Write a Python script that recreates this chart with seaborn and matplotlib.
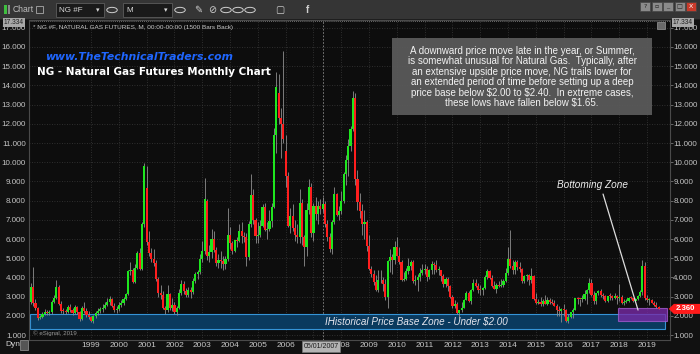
import numpy as np
import pandas as pd
import matplotlib
matplotlib.use('Agg')
import matplotlib.pyplot as plt
from matplotlib.patches import Rectangle, Polygon, Circle
import seaborn as sns

sns.set_style('dark')
plt.rcParams['font.family'] = ['Liberation Sans', 'DejaVu Sans']

# ── monthly NG #F bars, Nov 1996 .. Jun 2019 (one row per calendar year) ──
FIRST_MONTH = '1996-11'

opens = [
    2.73, 3.52,
    2.65, 2.40, 1.88, 1.95, 2.12, 2.20, 2.15, 2.18, 2.72, 2.95, 3.52, 2.64,
    2.26, 2.25, 2.22, 2.45, 2.28, 2.15, 2.45, 2.20, 1.85, 2.40, 2.25, 2.05,
    1.95, 1.75, 1.98, 2.15, 2.25, 2.35, 2.42, 2.55, 2.72, 2.85, 2.50, 2.30,
    2.33, 2.55, 2.65, 2.85, 3.15, 4.35, 4.40, 3.75, 4.50, 5.25, 4.45, 6.80,
    8.66, 5.86, 5.26, 4.95, 4.75, 3.90, 3.20, 3.10, 2.40, 2.30, 3.15, 2.40,
    2.57, 2.20, 2.40, 3.20, 3.65, 3.30, 3.10, 3.35, 3.25, 3.80, 4.20, 4.30,
    4.95, 5.40, 8.00, 5.10, 5.30, 6.00, 5.45, 4.75, 4.90, 4.85, 4.70, 4.95,
    6.19, 5.80, 5.40, 5.93, 5.90, 6.42, 6.16, 6.08, 5.08, 6.77, 8.30, 7.00,
    6.15, 6.21, 6.70, 7.65, 6.47, 6.53, 6.94, 7.69, 11.40, 13.60, 12.30, 12.00,
    10.60, 9.30, 6.70, 7.20, 6.55, 6.20, 6.10, 7.90, 6.10, 5.60, 7.50, 8.70,
    6.30, 7.70, 7.31, 7.73, 7.57, 7.83, 6.77, 6.11, 5.47, 6.87, 8.33, 7.26,
    7.48, 7.99, 9.37, 10.10, 10.85, 11.71, 13.35, 9.12, 7.92, 7.44, 6.78, 6.86,
    5.62, 4.42, 4.20, 3.78, 3.37, 3.84, 3.84, 3.66, 2.98, 4.84, 5.04, 4.93,
    5.57, 5.13, 4.80, 3.87, 3.92, 4.32, 4.62, 4.78, 3.81, 3.87, 4.03, 4.23,
    4.41, 4.42, 4.03, 4.39, 4.69, 4.67, 4.37, 4.39, 4.05, 3.67, 3.92, 3.57,
    2.99, 2.50, 2.62, 2.13, 2.29, 2.42, 2.82, 3.20, 2.77, 3.32, 3.70, 3.56,
    3.35, 3.34, 3.47, 4.02, 4.33, 3.98, 3.57, 3.42, 3.58, 3.56, 3.60, 3.83,
    4.23, 4.94, 4.61, 4.37, 4.80, 4.54, 4.46, 3.79, 4.06, 4.12, 3.84, 4.09,
    2.89, 2.69, 2.73, 2.64, 2.76, 2.64, 2.83, 2.72, 2.69, 2.52, 2.32, 2.24,
    2.34, 2.30, 1.71, 1.96, 2.18, 2.31, 2.92, 2.88, 2.86, 2.90, 3.12, 3.35,
    3.72, 3.09, 2.77, 3.19, 3.28, 3.07, 3.04, 2.77, 3.04, 3.01, 2.95, 3.02,
    2.95, 3.00, 2.67, 2.73, 2.76, 2.95, 2.92, 2.78, 2.90, 3.01, 3.26, 4.61,
    2.94, 2.81, 2.81, 2.66, 2.57, 2.45,
]
highs = [
    3.70, 4.56,
    2.90, 2.45, 2.05, 2.20, 2.35, 2.30, 2.30, 2.80, 3.10, 3.86, 3.60, 2.75,
    2.40, 2.35, 2.55, 2.60, 2.40, 2.55, 2.50, 2.25, 2.50, 2.70, 2.40, 2.25,
    2.00, 2.05, 2.25, 2.40, 2.45, 2.60, 2.70, 2.95, 3.05, 2.95, 2.65, 2.50,
    2.70, 2.80, 3.00, 3.20, 4.40, 4.80, 4.50, 4.70, 5.40, 5.55, 6.90, 9.98,
    9.80, 6.40, 5.55, 5.50, 4.90, 4.00, 3.60, 3.30, 2.50, 3.60, 3.20, 2.95,
    2.70, 2.50, 3.40, 3.85, 3.80, 3.45, 3.50, 3.50, 3.95, 4.30, 4.40, 5.20,
    5.90, 9.20, 8.10, 5.70, 6.50, 6.40, 5.60, 5.20, 5.40, 5.10, 5.10, 7.60,
    6.60, 5.90, 5.95, 6.10, 6.80, 6.90, 6.35, 6.30, 6.95, 9.40, 8.60, 7.10,
    6.90, 7.00, 7.80, 7.90, 6.90, 7.50, 7.90, 11.80, 14.70, 14.60, 12.80, 15.78,
    11.40, 9.50, 7.60, 7.80, 7.00, 6.80, 8.60, 8.10, 6.20, 7.90, 9.10, 8.90,
    7.90, 8.20, 8.00, 8.10, 8.20, 8.00, 7.00, 6.30, 7.00, 8.70, 8.40, 7.70,
    8.50, 9.50, 10.40, 11.20, 11.90, 13.69, 13.60, 9.60, 8.40, 7.80, 7.50, 7.00,
    6.20, 4.60, 4.40, 4.10, 4.40, 4.40, 4.00, 3.90, 4.90, 5.50, 5.20, 5.90,
    6.11, 5.60, 4.90, 4.30, 4.50, 5.00, 4.90, 4.90, 4.10, 4.20, 4.50, 4.70,
    4.70, 4.60, 4.45, 4.85, 4.80, 4.90, 4.60, 4.40, 4.20, 4.00, 4.00, 3.60,
    3.10, 2.80, 2.70, 2.30, 2.70, 2.90, 3.30, 3.30, 3.40, 3.90, 3.90, 3.70,
    3.60, 3.50, 4.10, 4.45, 4.40, 4.10, 3.80, 3.70, 3.80, 3.90, 3.90, 4.50,
    5.56, 6.49, 4.90, 4.90, 4.90, 4.80, 4.50, 4.10, 4.20, 4.20, 4.50, 4.10,
    3.20, 2.90, 3.00, 2.90, 3.10, 3.00, 2.95, 2.90, 2.80, 2.60, 2.50, 2.40,
    2.60, 2.35, 2.10, 2.20, 2.40, 2.95, 3.00, 2.90, 3.10, 3.35, 3.40, 3.99,
    3.90, 3.30, 3.20, 3.35, 3.40, 3.20, 3.10, 3.05, 3.20, 3.10, 3.20, 3.10,
    3.66, 3.10, 2.90, 2.85, 3.00, 3.05, 2.95, 2.95, 3.10, 3.35, 4.93, 4.80,
    3.10, 2.95, 2.90, 2.75, 2.70, 2.50,
]
lows = [
    2.60, 2.50,
    2.30, 1.80, 1.82, 1.90, 2.05, 2.05, 2.05, 2.12, 2.65, 2.90, 2.55, 2.15,
    2.10, 2.10, 2.15, 2.20, 2.05, 2.10, 2.10, 1.75, 1.80, 2.15, 1.95, 1.85,
    1.68, 1.63, 1.90, 2.05, 2.15, 2.20, 2.35, 2.50, 2.55, 2.45, 2.20, 2.15,
    2.25, 2.45, 2.55, 2.80, 3.10, 4.10, 3.70, 3.70, 4.45, 4.40, 4.40, 6.60,
    5.70, 5.10, 4.80, 4.60, 3.80, 3.00, 2.90, 2.35, 2.10, 2.20, 2.30, 2.25,
    2.10, 2.03, 2.35, 3.10, 3.15, 3.00, 3.00, 2.95, 3.15, 3.70, 3.90, 4.20,
    4.80, 5.20, 4.90, 4.80, 5.00, 5.30, 4.60, 4.50, 4.50, 4.40, 4.45, 4.85,
    5.50, 5.20, 5.30, 5.60, 5.85, 5.80, 5.85, 4.60, 4.90, 6.60, 6.80, 5.80,
    5.80, 6.10, 6.60, 6.40, 6.00, 6.40, 6.60, 7.60, 10.50, 12.00, 10.20, 11.00,
    8.70, 6.60, 6.30, 6.40, 5.90, 5.80, 5.80, 5.70, 4.60, 5.10, 7.30, 6.10,
    5.90, 7.00, 6.80, 7.30, 7.40, 6.60, 5.90, 5.30, 5.20, 6.80, 7.20, 7.00,
    7.30, 7.90, 8.80, 9.30, 10.60, 11.60, 8.80, 7.50, 7.10, 6.20, 6.00, 5.40,
    4.40, 4.00, 3.60, 3.30, 3.25, 3.70, 3.30, 2.80, 2.41, 4.30, 4.20, 4.70,
    5.10, 4.70, 3.80, 3.80, 3.85, 4.20, 4.40, 3.70, 3.60, 3.30, 3.80, 4.10,
    4.20, 3.80, 3.90, 4.20, 4.20, 4.30, 4.10, 3.80, 3.50, 3.50, 3.30, 2.95,
    2.40, 2.40, 2.10, 1.90, 2.20, 2.40, 2.80, 2.70, 2.60, 3.30, 3.50, 3.20,
    3.10, 3.10, 3.40, 3.90, 3.90, 3.50, 3.40, 3.20, 3.50, 3.50, 3.50, 3.75,
    4.10, 4.50, 4.20, 4.20, 4.40, 4.30, 3.70, 3.70, 3.80, 3.60, 3.70, 2.80,
    2.60, 2.60, 2.50, 2.50, 2.60, 2.55, 2.60, 2.60, 2.50, 2.00, 2.00, 1.68,
    2.00, 1.70, 1.61, 1.90, 1.90, 2.30, 2.60, 2.50, 2.70, 2.80, 2.60, 3.20,
    3.05, 2.60, 2.60, 3.10, 3.00, 2.90, 2.70, 2.70, 2.80, 2.80, 2.90, 2.60,
    2.75, 2.60, 2.55, 2.65, 2.70, 2.85, 2.70, 2.70, 2.80, 3.00, 3.10, 2.80,
    2.70, 2.55, 2.65, 2.50, 2.40, 2.33,
]
closes = [
    3.52, 2.65,
    2.40, 1.88, 1.95, 2.12, 2.20, 2.15, 2.18, 2.72, 2.95, 3.52, 2.64, 2.26,
    2.25, 2.22, 2.45, 2.28, 2.15, 2.45, 2.20, 1.85, 2.40, 2.25, 2.05, 1.95,
    1.75, 1.98, 2.15, 2.25, 2.35, 2.42, 2.55, 2.72, 2.85, 2.50, 2.30, 2.33,
    2.55, 2.65, 2.85, 3.15, 4.35, 4.40, 3.75, 4.50, 5.25, 4.45, 6.80, 9.78,
    5.86, 5.26, 4.95, 4.75, 3.90, 3.20, 3.10, 2.40, 2.30, 3.15, 2.40, 2.57,
    2.20, 2.40, 3.20, 3.65, 3.30, 3.10, 3.35, 3.25, 3.80, 4.20, 4.30, 4.95,
    5.40, 8.10, 5.10, 5.30, 6.00, 5.45, 4.75, 4.90, 4.85, 4.70, 4.95, 6.19,
    5.80, 5.40, 5.93, 5.90, 6.42, 6.16, 6.08, 5.08, 6.77, 8.30, 7.00, 6.15,
    6.21, 6.70, 7.65, 6.47, 6.53, 6.94, 7.69, 11.40, 13.90, 12.30, 12.00, 11.23,
    9.30, 6.70, 7.20, 6.55, 6.20, 6.10, 7.90, 6.10, 5.60, 7.50, 8.70, 6.30,
    7.70, 7.31, 7.73, 7.57, 7.83, 6.77, 6.11, 5.47, 6.87, 8.33, 7.26, 7.48,
    7.99, 9.37, 10.10, 10.85, 11.71, 13.35, 9.12, 7.92, 7.44, 6.78, 6.86, 5.62,
    4.42, 4.20, 3.78, 3.37, 3.84, 3.84, 3.66, 2.98, 4.84, 5.04, 4.93, 5.57,
    5.13, 4.80, 3.87, 3.92, 4.32, 4.62, 4.78, 3.81, 3.87, 4.03, 4.23, 4.41,
    4.42, 4.03, 4.39, 4.69, 4.67, 4.37, 4.39, 4.05, 3.67, 3.92, 3.57, 2.99,
    2.50, 2.62, 2.13, 2.29, 2.42, 2.82, 3.20, 2.77, 3.32, 3.70, 3.56, 3.35,
    3.34, 3.47, 4.02, 4.33, 3.98, 3.57, 3.42, 3.58, 3.56, 3.60, 3.83, 4.23,
    4.94, 4.61, 4.37, 4.80, 4.54, 4.46, 3.79, 4.06, 4.12, 3.84, 4.09, 2.89,
    2.69, 2.73, 2.64, 2.76, 2.64, 2.83, 2.72, 2.69, 2.52, 2.32, 2.24, 2.34,
    2.30, 1.71, 1.96, 2.18, 2.31, 2.92, 2.88, 2.86, 2.90, 3.12, 3.35, 3.72,
    3.09, 2.77, 3.19, 3.28, 3.07, 3.04, 2.77, 3.04, 3.01, 2.95, 3.02, 2.95,
    3.00, 2.67, 2.73, 2.76, 2.95, 2.92, 2.78, 2.90, 3.01, 3.26, 4.61, 2.94,
    2.81, 2.81, 2.66, 2.57, 2.45, 2.36,
]

YEARS = list(range(1999, 2020))
PRICE_TICKS = list(range(1, 18))
TOP_PRICE = 17.334
CURSOR_DATE = '2007-05'

BASE_ZONE = (1.30, 2.09)                 # blue "historical base" band
BOTTOM_ZONE = ('2018-01', 1.73, 2.42)    # purple "bottoming" box

NOTE = ("A downward price move late in the year, or Summer,\n"
        "is somewhat unusual for Natural Gas.  Typically, after\n"
        "an extensive upside price move, NG trails lower for\n"
        "an extended period of time before setting up a deep\n"
        "price base below \\$2.00 to \\$2.40.  In extreme cases,\n"
        "these lows have fallen below \\$1.65.")

# ── frame ────────────────────────────────────────────────────
df = pd.DataFrame({'open': opens, 'high': highs, 'low': lows, 'close': closes})
df['month'] = pd.period_range(FIRST_MONTH, periods=len(df), freq='M')
df['i'] = np.arange(len(df))
df['up'] = df['close'] >= df['open']
first = pd.Period(FIRST_MONTH, 'M')


def mpos(p):
    return (pd.Period(p, 'M') - first).n


W, H = 700, 354
fig = plt.figure(figsize=(W / 100, H / 100), dpi=100, facecolor='#111111')


def fx(x):
    return x / W


def fy(y):
    return 1 - y / H


BG = '#0d0d0d'
ax = fig.add_axes([fx(29), fy(340), fx(670) - fx(29), fy(20) - fy(340)])
ax.set_facecolor(BG)
ax.set_xlim(-0.8, 275.9)
ax.set_ylim(0.74, 17.406)

# grid + ticks
ax.set_yticks(PRICE_TICKS)
ax.set_yticklabels([f'{v:.3f}' for v in PRICE_TICKS])
ax.set_xticks([mpos(f'{y}-01') for y in YEARS])
ax.set_xticklabels([str(y) if y != 2007 else '' for y in YEARS])
ax.grid(True, color='#3a3a3a', linestyle=(0, (1, 2)), linewidth=0.6)
ax.tick_params(axis='y', labelleft=True, labelright=True, left=False, right=True,
               length=2, width=0.6, pad=0.3, color='#777777',
               labelcolor='#c4c4c4', labelsize=5.8)
ax.tick_params(axis='x', bottom=False, length=0, pad=1.6, labelcolor='#c8c8c8',
               labelsize=6)
for s in ax.spines.values():
    s.set_color('#4a4a4a')
    s.set_linewidth(0.8)

# zones
ax.add_patch(Rectangle((-0.4, BASE_ZONE[0]), 274.1, BASE_ZONE[1] - BASE_ZONE[0],
                       facecolor='#0a3a5e', edgecolor='#3594d6', lw=0.8, zorder=1))
bz0 = mpos(BOTTOM_ZONE[0]) - 0.4
ax.add_patch(Rectangle((bz0, BOTTOM_ZONE[1]), 274.6 - bz0, BOTTOM_ZONE[2] - BOTTOM_ZONE[1],
                       facecolor='#7a2aa8', edgecolor='#a45cd0', lw=0.8, alpha=0.78,
                       zorder=1.5))

# candles
ax.vlines(df['i'], df['low'], df['high'], color='#8f8f8f', lw=0.6, zorder=2)
body_lo = df[['open', 'close']].min(axis=1)
body_h = (df['close'] - df['open']).abs().clip(lower=0.05)
colors = np.where(df['up'], '#1ee61e', '#ff1e1e')
ax.bar(df['i'], body_h, bottom=body_lo, width=0.92, color=colors, lw=0, zorder=3)

# top price line and cursor
ax.axhline(TOP_PRICE, color='#8c8c8c', lw=0.6, linestyle=(0, (1, 1.5)), zorder=0.5)
ax.axvline(mpos(CURSOR_DATE), color='#8c8c8c', lw=0.6, linestyle=(0, (2, 2)), zorder=0.5)

# texts inside plot
ax.text(0.006, 0.985, '* NG #F, NATURAL GAS FUTURES, M, 00:00-00:00 (1500 Bars Back)',
        transform=ax.transAxes, ha='left', va='top', fontsize=4.6, color='#c8c8c8')
ax.text(0.006, 0.012, '© eSignal, 2019', transform=ax.transAxes, ha='left', va='bottom',
        fontsize=4.4, color='#9a9a9a')
fig.text(fx(45), fy(57), 'www.TheTechnicalTraders.com', ha='left', va='center',
         fontsize=7.8, color='#1f66ff', fontweight='bold', fontstyle='italic',
         family='DejaVu Sans')
fig.text(fx(37), fy(72), 'NG - Natural Gas Futures Monthly Chart', ha='left', va='center',
         fontsize=7.5, color='#ffffff', fontweight='bold', family='DejaVu Sans')

fig.patches.append(Rectangle((fx(392), fy(115)), fx(652) - fx(392), fy(38) - fy(115),
                             transform=fig.transFigure, facecolor='#5a5a5a',
                             edgecolor='none', alpha=0.95, zorder=5))
fig.text(fx(522), fy(77), NOTE, ha='center', va='center', fontsize=7.0,
         color='#f2f2f2', linespacing=1.05, zorder=6)

ax.text(mpos('2007-06'), sum(BASE_ZONE) / 2, 'IHistorical Price Base Zone - Under \\$2.00',
        ha='left', va='center', fontsize=7.1, color='#e6e6ee', fontstyle='italic', zorder=4)
ax.text(mpos('2015-10'), 8.81, 'Bottoming Zone', ha='left', va='center',
        fontsize=7.2, color='#eeeeee', fontstyle='italic', zorder=4)
ax.annotate('', xy=(mpos('2018-09') + 0.1, 2.30), xytext=(mpos('2017-06'), 8.34),
            arrowprops=dict(arrowstyle='-', color='#dddddd', lw=0.9,
                            shrinkA=0, shrinkB=0), zorder=4)

# last price tag on the right
last = df['close'].iloc[-1]
tr = matplotlib.transforms.blended_transform_factory(ax.transAxes, ax.transData)
dy = 5 / 19.2
ax.add_patch(Polygon([(0.998, last), (1.006, last + dy), (1.05, last + dy),
                      (1.05, last - dy), (1.006, last - dy)], closed=True,
                     transform=tr, facecolor='#ff1a1a', edgecolor='none',
                     clip_on=False, zorder=6))
ax.text(1.009, last, f'{last:.3f}', transform=tr, ha='left', va='center',
        fontsize=5.6, color='white', fontweight='bold', clip_on=False, zorder=7)

# 17.334 boxes
for xx in [fx(4), fx(673)]:
    fig.text(xx, fy(22), f'{TOP_PRICE:.3f}', ha='left', va='center', fontsize=4.8,
             color='#202020', bbox=dict(boxstyle='square,pad=0.15', fc='#a8a8a8', ec='none'))

# cursor date label (covers the "2" of 2008, as in the terminal)
fig.text(fx(321), fy(346.5), '05/01/2007', ha='center', va='center', fontsize=5.0,
         color='#1a1a1a', zorder=10,
         bbox=dict(boxstyle='square,pad=0.25', fc='#b4b4b4', ec='#777777', lw=0.5))
fig.text(fx(5), fy(345), 'Dyn', ha='left', va='center', fontsize=6, color='#d0d0d0')
fig.patches.append(Rectangle((fx(20), fy(350)), fx(8), fy(340) - fy(350),
                             transform=fig.transFigure, fc='#555555', ec='#999999', lw=0.5))

# ── toolbar ─────────────────────────────────────────────────
fig.patches.append(Rectangle((0, fy(19)), 1, fy(0) - fy(19), transform=fig.transFigure,
                             facecolor='#353535', edgecolor='none', zorder=0))
fig.patches.append(Rectangle((0, fy(20)), 1, fy(19) - fy(20), transform=fig.transFigure,
                             facecolor='#1e1e1e', edgecolor='none', zorder=0))
fig.patches.append(Rectangle((fx(4), fy(14)), fx(3), fy(5) - fy(14), transform=fig.transFigure,
                             fc='#3fbf3f', ec='none'))
fig.patches.append(Rectangle((fx(8), fy(14)), fx(2), fy(5) - fy(14), transform=fig.transFigure,
                             fc='#8a8a8a', ec='none'))
fig.text(fx(13), fy(10), 'Chart', ha='left', va='center', fontsize=6.2, color='#bdbdbd')
fig.patches.append(Rectangle((fx(36), fy(13)), fx(7), fy(6) - fy(13), transform=fig.transFigure,
                             fc='none', ec='#aaaaaa', lw=0.6))
for x0, x1, label in [(56, 104, 'NG #F'), (123, 172, 'M')]:
    fig.patches.append(Rectangle((fx(x0), fy(17)), fx(x1 - x0), fy(3) - fy(17),
                                 transform=fig.transFigure, fc='#1a1a1a', ec='#5c5c5c', lw=0.6))
    fig.text(fx(x0 + 3), fy(10), label, ha='left', va='center', fontsize=5.8, color='#d8d8d8')
    fig.text(fx(x1 - 6), fy(10), '▾', ha='center', va='center', fontsize=5, color='#d8d8d8',
             family='DejaVu Sans')
for cx in [112, 180, 226, 238, 250]:
    fig.patches.append(Circle((fx(cx), fy(10)), 0.0075, transform=fig.transFigure,
                              fc='none', ec='#cfcfcf', lw=0.7))
fig.text(fx(198), fy(10), '✎', ha='center', va='center', fontsize=7, color='#cfcfcf',
         family='DejaVu Sans')
fig.text(fx(212), fy(10), '⊘', ha='center', va='center', fontsize=7, color='#cfcfcf',
         family='DejaVu Sans')
fig.text(fx(280), fy(10), '▢', ha='center', va='center', fontsize=7, color='#cfcfcf',
         family='DejaVu Sans')
fig.text(fx(308), fy(10), 'f', ha='center', va='center', fontsize=7, color='#cfcfcf',
         fontweight='bold')
for k, sym in enumerate(['?', '▫', '_', '□', 'X']):
    x0 = 640 + k * 11.5
    fig.patches.append(Rectangle((fx(x0), fy(11)), fx(10), fy(2) - fy(11),
                                 transform=fig.transFigure,
                                 fc='#c83a2a' if sym == 'X' else '#8a8a8a', ec='#444444', lw=0.5))
    fig.text(fx(x0 + 5), fy(6.5), sym, ha='center', va='center', fontsize=4.5,
             color='white' if sym == 'X' else '#222222', family='DejaVu Sans')
fig.patches.append(Rectangle((fx(657), fy(29)), fx(8), fy(22) - fy(29),
                             transform=fig.transFigure, fc='#6a6a6a', ec='#999999', lw=0.5))

fig.savefig('out.png', dpi=100, facecolor=fig.get_facecolor())
